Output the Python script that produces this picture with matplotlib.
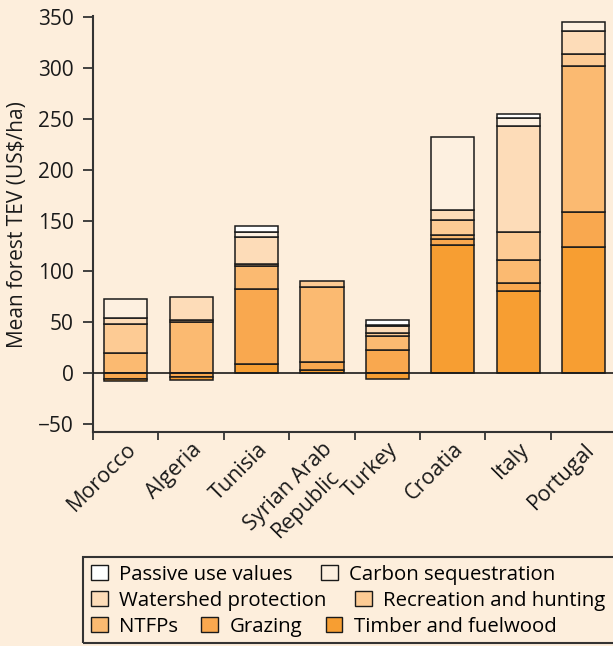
import numpy as np
import matplotlib.pyplot as plt
from matplotlib.patches import Patch, Rectangle

plt.rcParams['font.family'] = ['Open Sans', 'DejaVu Sans']

countries = ['Morocco', 'Algeria', 'Tunisia', 'Syrian Arab\nRepublic',
             'Turkey', 'Croatia', 'Italy', 'Portugal']

# mean forest TEV components, US$/ha
timber = [-2.0, -2.6, 8.5, 2.9, -5.9, 125.9, 80.6, 124.2]
grazing = [-6.2, -4.3, 73.8, 7.6, 22.3, 5.9, 7.6, 33.8]
ntfps = [20.0, 49.8, 22.9, 73.8, 14.4, 3.6, 22.6, 143.9]
recreation = [28.2, 2.3, 2.0, 5.9, 2.3, 15.0, 28.1, 11.5]
watershed = [5.6, 23.0, 26.2, 0.0, 6.9, 9.6, 104.3, 22.9]
carbon = [19.0, 0.0, 5.6, 0.0, 1.3, 71.7, 7.2, 9.1]
passive = [0.0, 0.0, 5.8, 0.0, 5.2, 0.0, 4.3, 0.0]

series = [timber, grazing, ntfps, recreation, watershed, carbon, passive]
names = ['Timber and fuelwood', 'Grazing', 'NTFPs', 'Recreation and hunting',
         'Watershed protection', 'Carbon sequestration', 'Passive use values']
colors = ['#f79e32', '#f9a84f', '#fbba71', '#fdcb94', '#fddcb8', '#fdf0e0', '#ffffff']

bg = '#fdeedc'
ink = '#1a1a1a'

fig = plt.figure(figsize=(6.13, 6.46), dpi=100, facecolor=bg)
ax = fig.add_axes([0.1517, 0.3313, 0.8483, 0.6436], facecolor=bg)

x = np.arange(len(countries))
w = 0.66
pos = np.zeros(len(x))
neg = np.zeros(len(x))

# positive parts stack upwards
for vals, c in zip(series, colors):
    v = np.array(vals)
    m = v > 0
    ax.bar(x[m], v[m], w, bottom=pos[m], color=c, edgecolor=ink, linewidth=1.1, zorder=2)
    pos[m] += v[m]

# negative parts stack downwards
for vals, c in zip(series[::-1], colors[::-1]):
    v = np.array(vals)
    m = v < 0
    ax.bar(x[m], v[m], w, bottom=neg[m], color=c, edgecolor=ink, linewidth=1.1, zorder=2)
    neg[m] += v[m]

ax.axhline(0, color=ink, linewidth=1.2, zorder=3)

ax.set_xlim(-0.5, 7.45)
ax.set_ylim(-58, 351)
ax.set_yticks(np.arange(-50, 351, 50))
ax.set_ylabel('Mean forest TEV (US$/ha)', fontsize=15, color=ink)
ax.yaxis.set_label_coords(-0.125, 0.5)

ax.set_xticks(np.arange(-0.5, 7, 1))
ax.set_xticklabels([])
ax.set_xticks(x, minor=True)
ax.set_xticklabels(countries, minor=True, rotation=45, ha='right', va='top',
                   rotation_mode='anchor', multialignment='center')
ax.tick_params(axis='x', which='minor', length=0, pad=5, labelsize=15.5, labelcolor=ink)
ax.tick_params(axis='x', which='major', length=6, width=1.3, color='#333333')
ax.tick_params(axis='y', length=7, width=1.3, color='#333333', pad=7, labelsize=15, labelcolor=ink)

for s in ['top', 'right']:
    ax.spines[s].set_visible(False)
for s in ['left', 'bottom']:
    ax.spines[s].set_linewidth(1.5)
    ax.spines[s].set_color('#333333')

# legend: three rows inside one frame
patch = {n: Patch(facecolor=c, edgecolor=ink, linewidth=1) for n, c in zip(names, colors)}
rows = [['Passive use values', 'Carbon sequestration'],
        ['Watershed protection', 'Recreation and hunting'],
        ['NTFPs', 'Grazing', 'Timber and fuelwood']]
for i, row in enumerate(rows):
    fig.legend([patch[n] for n in row], row, ncol=len(row), loc='upper left',
               bbox_to_anchor=(0.1485, 0.126 - i * 0.0402), frameon=False,
               fontsize=14.7, handlelength=0.82, handleheight=0.82, handletextpad=0.55,
               columnspacing=1.4 if i < 2 else 1.15, borderaxespad=0, borderpad=0,
               labelspacing=0)

fig.add_artist(Rectangle((83 / 613, 0.0046), 0.9, 0.133, transform=fig.transFigure,
                         fill=False, edgecolor='#333333', linewidth=1.5))

fig.savefig('out.png', dpi=100, facecolor=bg)
